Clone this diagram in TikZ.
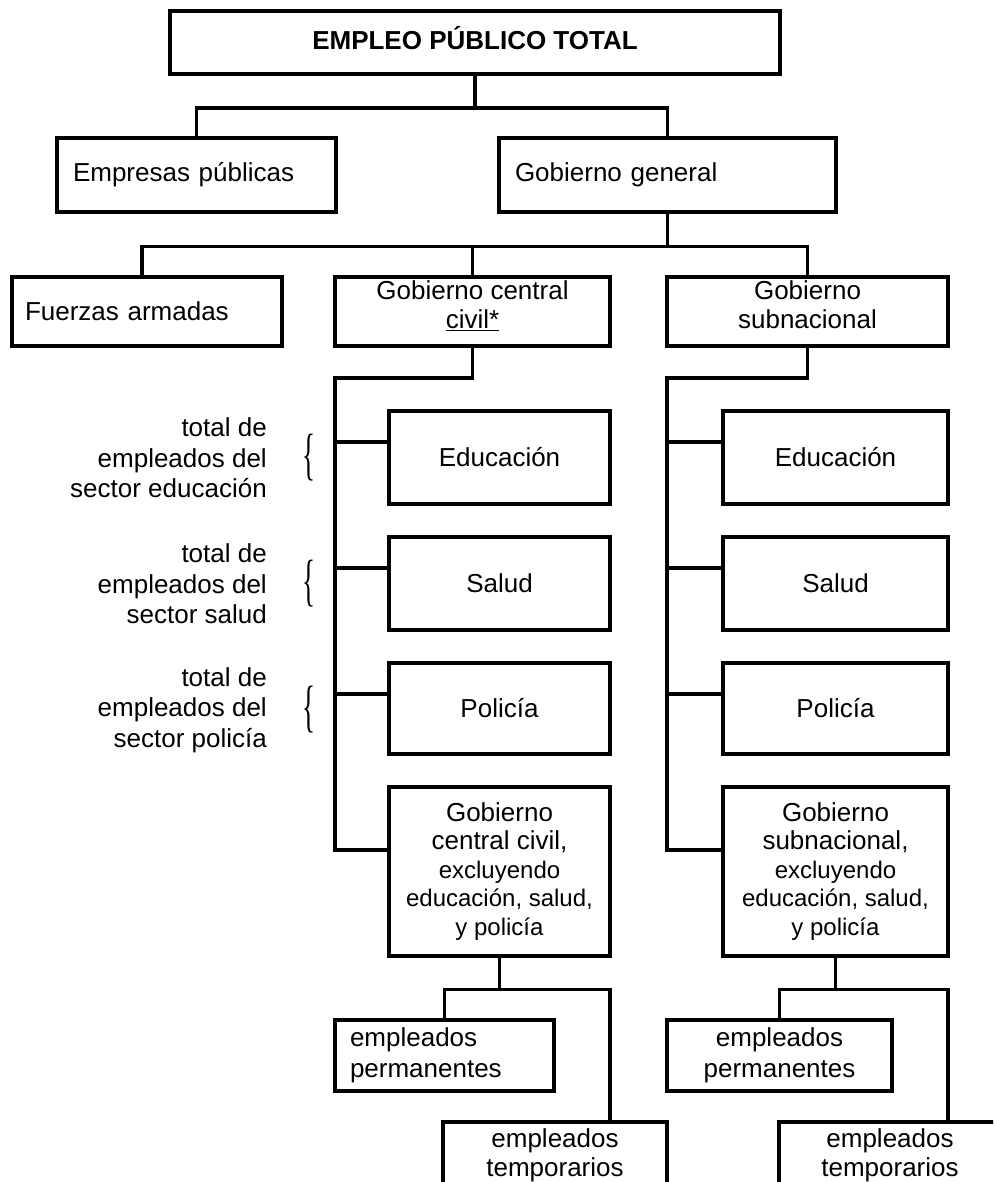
\documentclass[tikz,border=0pt]{standalone}
\usepackage{fontspec}
\usepackage{graphicx}
\setmainfont{Liberation Sans}
\newfontfamily\bracefont{Liberation Serif}
\newcommand{\smalltxt}{\fontsize{24}{28.5}\selectfont}
\newcommand{\sidebrace}{\resizebox*{13pt}{47pt}{\fontsize{55}{55}\bracefont\{}}
\begin{document}
\begin{tikzpicture}[x=1pt,y=-1pt,
  box/.style={draw, line width=3.3pt, inner ysep=2pt,
    font=\fontsize{26}{29}\selectfont},
  cbox/.style={box, align=center, inner xsep=6pt},
  lbox/.style={box, align=left},
  wire/.style={draw, line width=3.3pt},
  note/.style={anchor=east, align=right, inner sep=0pt,
    font=\fontsize{26}{30.5}\selectfont},
  bracemark/.style={inner sep=0pt}]
\useasboundingbox (0,0) rectangle (993,1182);
\clip (0,0) rectangle (993,1182);

% top level
\node[cbox, font=\fontsize{26}{30}\selectfont\bfseries, text depth=10pt,
  minimum width=610pt, minimum height=63pt] (top) at (475,42.5)
  {EMPLEO PÚBLICO TOTAL};

\node[lbox, inner xsep=16pt, text width=247pt, minimum height=74pt]
  (emp) at (196.5,175) {Empresas públicas};
\node[lbox, inner xsep=16pt, text width=305pt, minimum height=74pt]
  (gg) at (667.5,175) {Gobierno general};

% general government split
\node[lbox, inner xsep=13pt, text width=244pt, minimum height=69pt]
  (fa) at (147,311.5) {Fuerzas armadas};
\node[cbox, minimum width=275pt, minimum height=69pt, text depth=14pt]
  (gc) at (472.5,311.5) {Gobierno central\\\underline{civil*}};
\node[cbox, minimum width=281pt, minimum height=69pt, text depth=14pt]
  (sub) at (807.5,311.5) {Gobierno\\subnacional};

% central civil government sectors
\node[cbox, minimum width=221pt, minimum height=93pt] (e1) at (499.5,457.5) {Educación};
\node[cbox, minimum width=221pt, minimum height=93pt] (s1) at (499.5,583.5) {Salud};
\node[cbox, minimum width=221pt, minimum height=91pt] (p1) at (499.5,708.5) {Policía};
\node[cbox, minimum width=221pt, minimum height=169pt,
  font=\fontsize{26}{28.5}\selectfont] (r1) at (499.5,871.5)
  {Gobierno\\central civil,\\{\smalltxt excluyendo}\\{\smalltxt educación, salud,}\\{\smalltxt y policía}};

% subnational government sectors
\node[cbox, minimum width=225pt, minimum height=93pt] (e2) at (835.5,457.5) {Educación};
\node[cbox, minimum width=225pt, minimum height=93pt] (s2) at (835.5,583.5) {Salud};
\node[cbox, minimum width=225pt, minimum height=91pt] (p2) at (835.5,708.5) {Policía};
\node[cbox, minimum width=225pt, minimum height=169pt,
  font=\fontsize{26}{28.5}\selectfont] (r2) at (835.5,871.5)
  {Gobierno\\subnacional,\\{\smalltxt excluyendo}\\{\smalltxt educación, salud,}\\{\smalltxt y policía}};

% permanent / temporary staff
\node[lbox, inner xsep=15pt, text width=189pt, minimum height=71pt,
  font=\fontsize{26}{31}\selectfont]
  (perm1) at (444.5,1055.5) {empleados\\permanentes};
\node[cbox, minimum width=224pt, minimum height=66pt]
  (temp1) at (555,1155) {empleados\\temporarios};
\node[cbox, minimum width=225pt, minimum height=71pt,
  font=\fontsize{26}{31}\selectfont]
  (perm2) at (779.5,1055.5) {empleados\\permanentes};
\node[cbox, minimum width=222pt, minimum height=66pt]
  (temp2) at (890,1155) {empleados\\temporarios};

% side notes with braces
\node[note] (n1) at (267,458) {total de\\empleados del\\sector educación};
\node[note] (n2) at (267,584) {total de\\empleados del\\sector salud};
\node[note] (n3) at (267,710) {total de\\empleados del\\sector policía};
\node[bracemark] (b1) at (309,458) {\sidebrace};
\node[bracemark] (b2) at (309,584) {\sidebrace};
\node[bracemark] (b3) at (309,710) {\sidebrace};

% connectors: upper levels
\draw[wire] (top.south) -- ++(0,32.5) -| (emp.north);
\draw[wire] (top.south) -- ++(0,32.5) -| (gg.north);
\draw[wire] (gg.south) -- ++(0,33) -| ([xshift=-5pt]fa.north);
\draw[wire] (gg.south) -- ++(0,33) -| (gc.north);
\draw[wire] (gg.south) -- ++(0,33) -| (sub.north);

% connectors: central civil trunk
\coordinate (tl) at (335,378);
\coordinate (ae1) at ([yshift=15.5pt]e1.west);
\coordinate (as1) at ([yshift=15.5pt]s1.west);
\coordinate (ap1) at ([yshift=14.5pt]p1.west);
\coordinate (ar1) at ([yshift=21.5pt]r1.west);
\draw[wire] (gc.south) |- (tl) |- (ar1);
\draw[wire] (tl |- ae1) -- (ae1);
\draw[wire] (tl |- as1) -- (as1);
\draw[wire] (tl |- ap1) -- (ap1);

% connectors: subnational trunk
\coordinate (tr) at (667,378);
\coordinate (ae2) at ([yshift=15.5pt]e2.west);
\coordinate (as2) at ([yshift=15.5pt]s2.west);
\coordinate (ap2) at ([yshift=14.5pt]p2.west);
\coordinate (ar2) at ([yshift=21.5pt]r2.west);
\draw[wire] (sub.south) |- (tr) |- (ar2);
\draw[wire] (tr |- ae2) -- (ae2);
\draw[wire] (tr |- as2) -- (as2);
\draw[wire] (tr |- ap2) -- (ap2);

% connectors: staff categories
\coordinate (tt1) at ([xshift=55pt]temp1.north);
\coordinate (tt2) at ([xshift=58pt]temp2.north);
\draw[wire] (r1.south) -- ++(0,32) -| (perm1.north);
\draw[wire] (r1.south) -- ++(0,32) -| (tt1);
\draw[wire] (r2.south) -- ++(0,32) -| (perm2.north);
\draw[wire] (r2.south) -- ++(0,32) -| (tt2);
\end{tikzpicture}
\end{document}
